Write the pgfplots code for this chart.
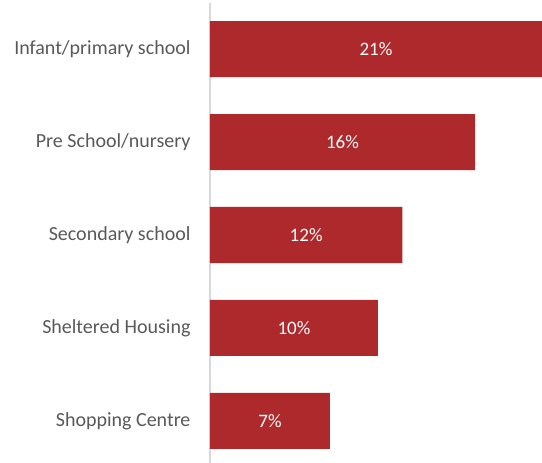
\documentclass[border=0pt]{standalone}
\usepackage{pgfplots}
\pgfplotsset{compat=1.18}
\usepackage{fontspec}
\setmainfont{Carlito}
\definecolor{barred}{HTML}{AD292C}
\definecolor{lblgray}{HTML}{595959}
\definecolor{axgray}{HTML}{D9D9D9}
\begin{document}
\begin{tikzpicture}[x=1pt,y=1pt]
\path[use as bounding box] (0,0) rectangle (542,463);
\begin{axis}[
  at={(210pt,0pt)}, anchor=south west,
  scale only axis, width=332pt, height=460pt,
  xmin=0, xmax=20.37,
  ymin=-0.495, ymax=4.452, y dir=reverse,
  axis x line=none,
  axis y line*=left,
  axis line style={axgray, line width=1.5pt, -},
  ytick={0,1,2,3,4},
  yticklabels={Infant/primary school, Pre School/nursery, Secondary school, Sheltered Housing, Shopping Centre},
  yticklabel style={font=\fontsize{20}{24}\selectfont, text=lblgray, xshift=-16pt},
  major tick length=0pt,
  ytick style={draw=none},
]
\addplot[xbar, bar width=56pt, fill=barred, draw=none] table[x=v, y=c] {
c v
0 20.37
1 16.26
2 11.8
3 10.3
4 7.36
};
\addplot[draw=none, mark=none, nodes near coords, point meta=explicit symbolic,
  every node near coord/.style={anchor=center, text=white, font=\fontsize{19}{23}\selectfont}]
  table[x=h, y=c, meta=l] {
c h l
0 10.185 21\%
1 8.13 16\%
2 5.9 12\%
3 5.15 10\%
4 3.68 7\%
};
\end{axis}
\end{tikzpicture}
\end{document}
